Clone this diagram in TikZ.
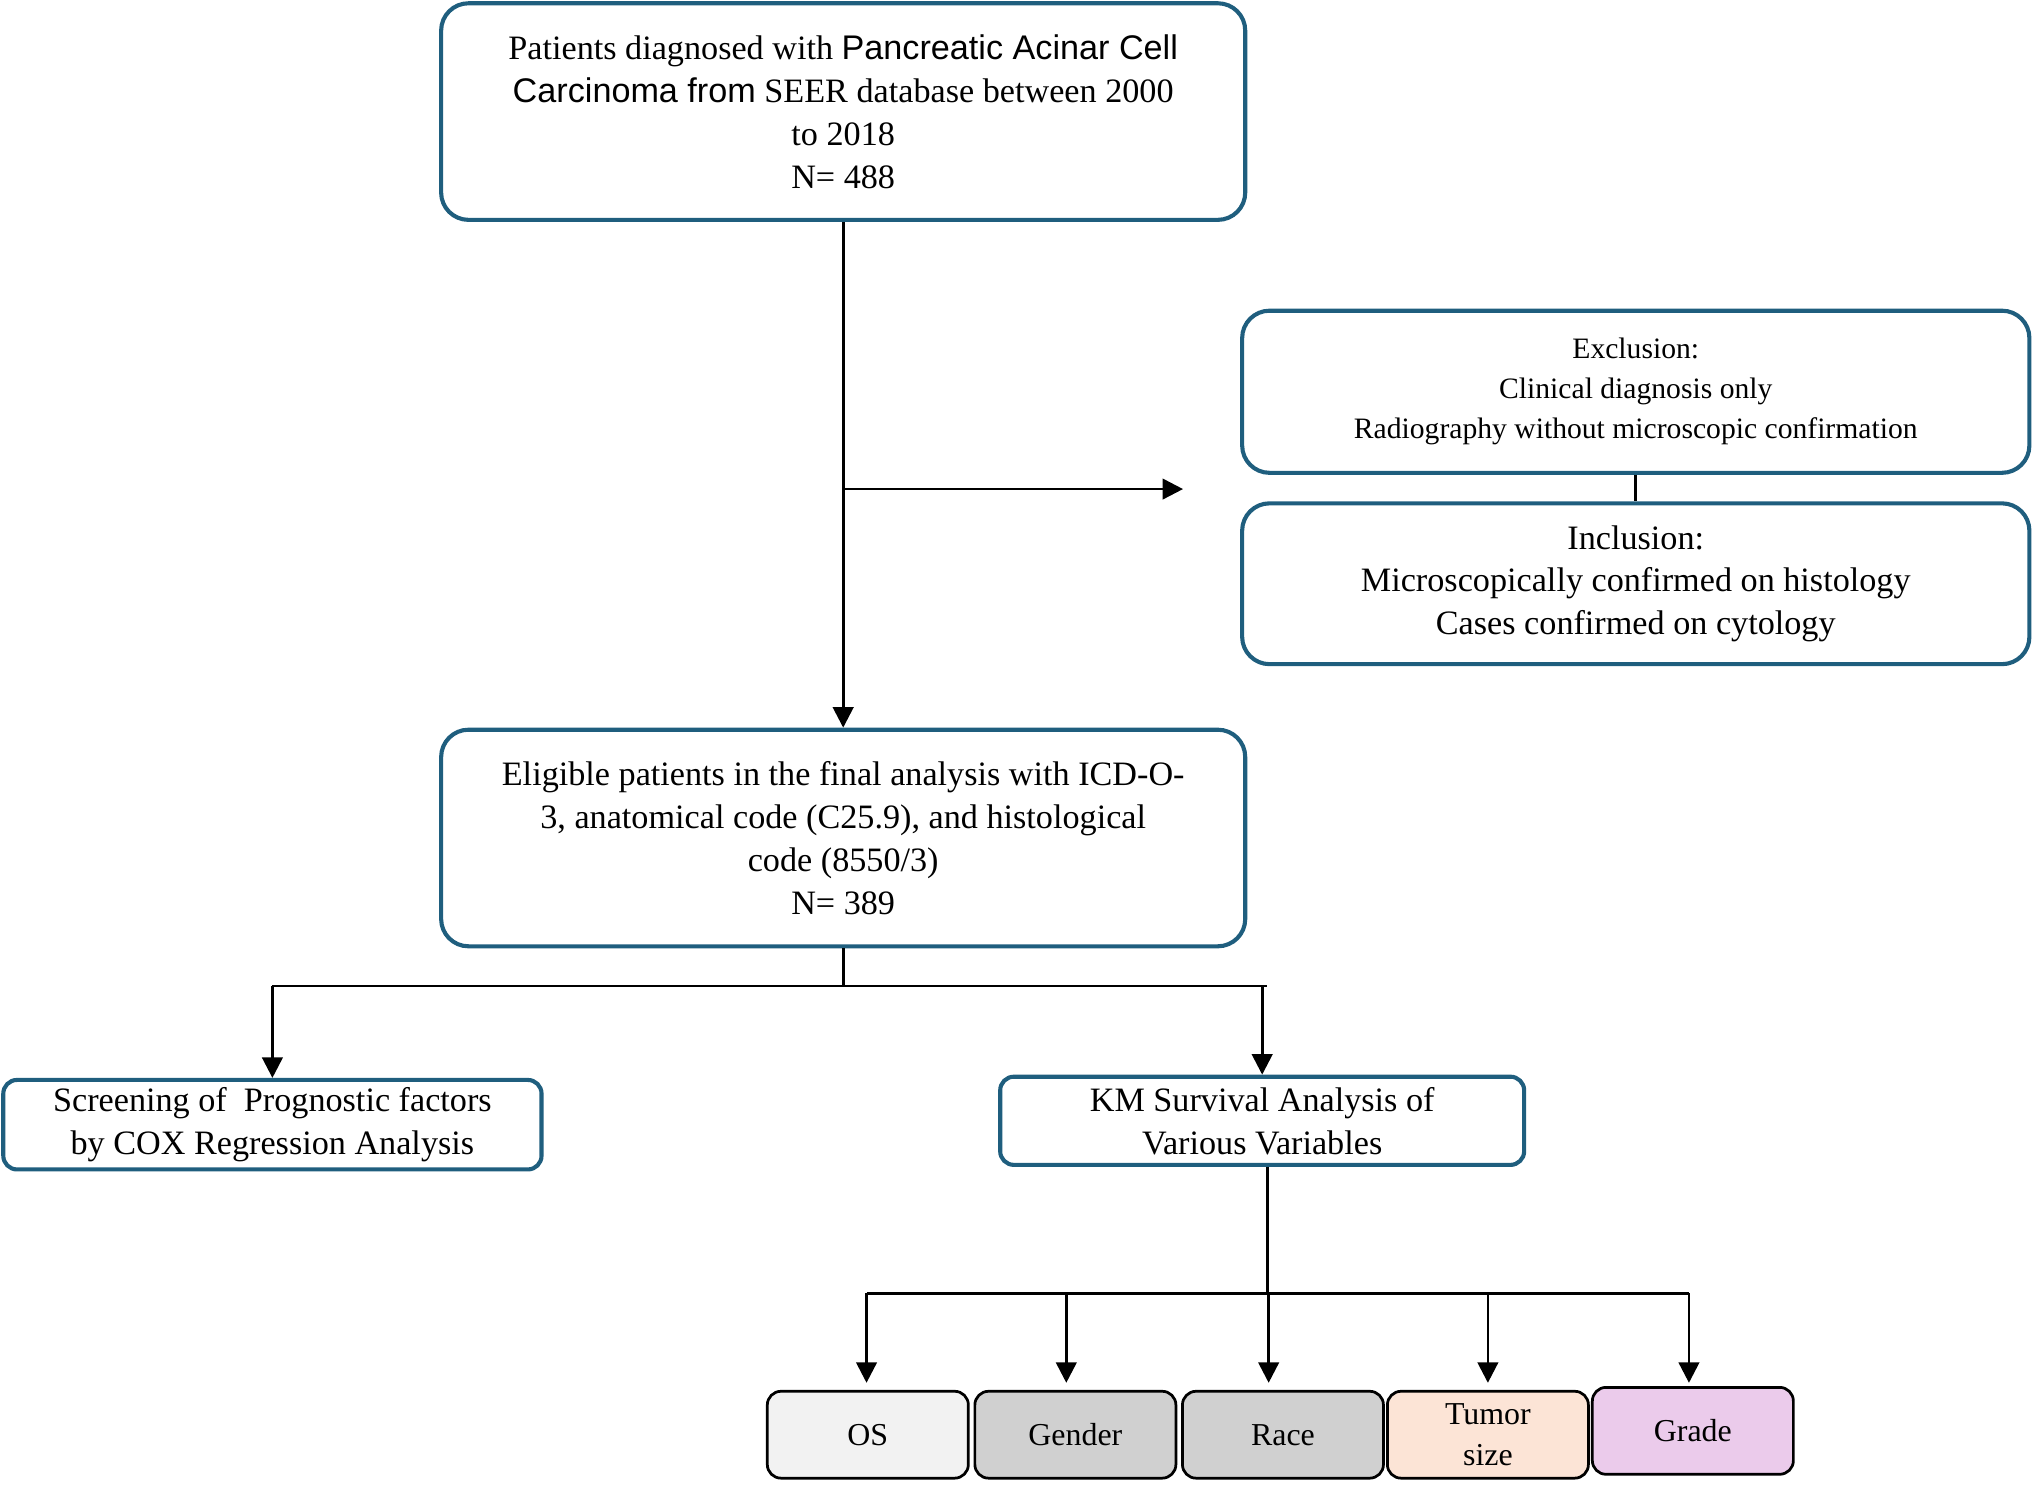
\documentclass[tikz,border=0pt]{standalone}
\usepackage{fontspec}
\setmainfont{Liberation Serif}
\newfontfamily\sansf{Liberation Sans}
\usetikzlibrary{arrows.meta}
\definecolor{boxblue}{HTML}{1F5E7E}
\definecolor{osfill}{HTML}{F2F2F2}
\definecolor{grayfill}{HTML}{D0D0D0}
\definecolor{tumorfill}{HTML}{FCE4D6}
\definecolor{gradefill}{HTML}{EBCBEB}
\tikzset{
  flowbox/.style={draw=boxblue, line width=1.8pt, rounded corners=12pt, align=center,
    inner sep=0pt, font=\fontsize{15}{18.8}\selectfont},
  varbox/.style={draw=black, line width=1.2pt, rounded corners=6pt, align=center,
    inner sep=0pt, minimum width=3.1cm, minimum height=1.34cm, font=\fontsize{14}{18}\selectfont},
  arr/.style={-{Triangle[length=9pt,width=9pt]}, line width=1.2pt},
  ln/.style={line width=1.2pt}
}
\begin{document}
\begin{tikzpicture}[x=0.02cm, y=-0.02cm]
	\useasboundingbox (0,0) rectangle (1568,1144);

	\node[flowbox, minimum width=12.4cm, minimum height=3.34cm] (pat) at (650,86)
	  {Patients diagnosed with {\sansf Pancreatic Acinar Cell}\\ {\sansf Carcinoma from} SEER database between 2000\\ to 2018\\ N= 488};
	\node[flowbox, minimum width=12.14cm, minimum height=2.5cm, font=\fontsize{13}{17.5}\selectfont] (excl) at (1261,302)
	  {Exclusion:\\ Clinical diagnosis only\\ Radiography without microscopic confirmation};
	\node[flowbox, minimum width=12.14cm, minimum height=2.48cm] (incl) at (1261,450)
	  {Inclusion:\\ Microscopically confirmed on histology\\ Cases confirmed on cytology};
	\node[flowbox, minimum width=12.4cm, minimum height=3.34cm] (elig) at (650,646)
	  {Eligible patients in the final analysis with ICD-O-\\ 3, anatomical code (C25.9), and histological\\ code (8550/3)\\ N= 389};
	\node[flowbox, rounded corners=6pt, minimum width=8.3cm, minimum height=1.38cm] (cox) at (210,867)
	  {Screening of~ Prognostic factors\\ by COX Regression Analysis};
	\node[flowbox, rounded corners=6pt, minimum width=8.08cm, minimum height=1.36cm] (km) at (973,864)
	  {KM Survival Analysis of\\ Various Variables};

	\node[varbox, fill=osfill] (os) at (669,1106) {OS};
	\node[varbox, fill=grayfill] (gender) at (829,1106) {Gender};
	\node[varbox, fill=grayfill] (race) at (989,1106) {Race};
	\node[varbox, fill=tumorfill] (tumor) at (1147,1106) {Tumor\\ size};
	\node[varbox, fill=gradefill] (grade) at (1305,1103) {Grade};

	% main flow
	\draw[arr] (pat.south) -- (elig.north);
	\coordinate (br) at (650,377);
	\coordinate (brend) at (912,377);
	\draw[arr] (br) -- (brend);
	\draw[ln] (excl.south) -- (incl.north);

	% split to analyses
	\coordinate (j1) at (650,760);
	\draw[ln] (elig.south) -- (j1);
	\draw[ln] (210,760) -- (977,760);
	\draw[arr] (210,760) -- (cox.north);
	\draw[arr] (973,760) -- (km.north);

	% variables
	\coordinate (j2) at (977,997);
	\draw[ln] (km.south -| j2) -- (j2);
	\draw[ln] (668,997) -- (1302,997);
	\foreach \b/\x in {os/668, gender/822, race/978, tumor/1147, grade/1302}
	  \draw[arr] (\x,997) -- (\x,1066);
\end{tikzpicture}
\end{document}
